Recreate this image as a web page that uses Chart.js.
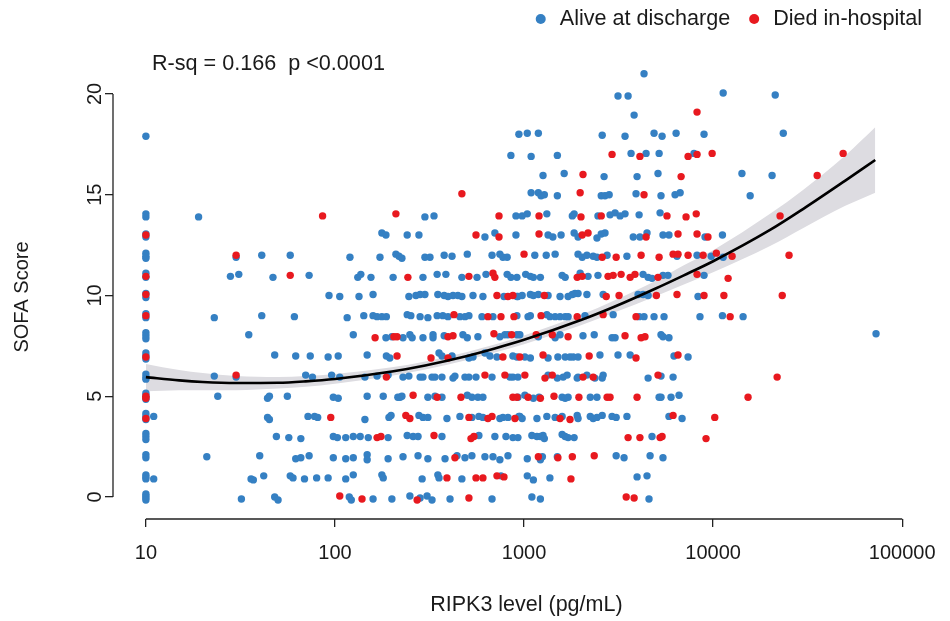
<!DOCTYPE html>
<html>
<head>
<meta charset="utf-8">
<script src="https://cdn.jsdelivr.net/npm/chart.js@4.4.1/dist/chart.umd.min.js"></script>
<style>
  html, body { margin: 0; padding: 0; background: #fff; }
  #wrap { width: 950px; height: 621px; }
</style>
</head>
<body>
<div id="wrap"><canvas id="sofaChart"></canvas></div>
<script>
// RIPK3 (pg/mL) and SOFA score, patients alive at discharge (one line per SOFA level)
const aliveRipk3 = [
  10, 10, 10, 10, 32, 48, 50, 119, 122, 159, 200, 249, 282, 307, 326, 406, 677, 1100, 1220, 4580,
  10, 10, 10, 11, 36, 37, 42, 58, 60, 69, 80, 92, 114, 125, 177, 180, 289, 350, 355, 469, 755, 1040, 1120, 1370, 3960, 4470,
  10, 10, 21, 40, 62, 66, 73, 98, 114, 125, 148, 148, 191, 229, 275, 310, 382, 442, 487, 530, 621, 685, 745, 822, 1040, 1220, 1250, 1500, 3070, 3380, 4640, 5430,
  10, 10, 10, 49, 57, 66, 98, 103, 114, 125, 136, 150, 191, 241, 259, 275, 368, 577, 701, 802, 873, 928, 1100, 1170, 1220, 1260, 1280, 1590, 1650, 1710, 1840, 4750,
  10, 10, 10, 11, 44, 45, 72, 78, 81, 144, 193, 198, 278, 292, 310, 391, 458, 530, 577, 606, 745, 773, 822, 939, 950, 977, 1170, 1320, 1460, 1590, 1910, 1930, 2240, 2320, 2430, 2590, 2920, 3070, 3500, 5840, 6850,
  10, 10, 10, 24, 44, 45, 56, 98, 104, 148, 180, 215, 221, 226, 310, 338, 368, 501, 530, 570, 606, 928, 1010, 1120, 1200, 1590, 1650, 1710, 2240, 2430, 5180, 5300, 5990, 6600,
  10, 10, 10, 23, 30, 70, 76, 96, 106, 144, 167, 191, 229, 246, 282, 292, 326, 338, 368, 421, 431, 487, 511, 557, 677, 842, 873, 928, 1340, 1500, 1610, 1690, 1910, 1930, 2150, 2370, 2590, 2620, 4530, 5300, 6140,
  10, 10, 10, 48, 62, 74, 92, 104, 148, 187, 195, 355, 368, 416, 511, 537, 621, 660, 719, 873, 917, 1010, 1080, 1340, 1510, 1650, 1750, 1820, 1930, 2520, 3140, 3640, 6210, 7370,
  10, 10, 10, 35, 125, 186, 200, 229, 249, 256, 292, 330, 330, 378, 475, 501, 570, 745, 792, 822, 917, 950, 1190, 1460, 1550, 2050, 2350, 2920, 3030, 5300, 5430, 5840, 72700,
  10, 10, 23, 41, 61, 116, 142, 159, 167, 177, 187, 241, 252, 282, 310, 347, 372, 396, 458, 487, 511, 599, 685, 917, 1050, 1080, 1320, 1370, 1460, 1550, 1650, 1710, 2100, 2960, 4060, 4310, 4870, 5500, 8520, 11200, 14400,
  10, 10, 93, 106, 134, 159, 246, 268, 282, 299, 350, 378, 396, 421, 447, 469, 537, 606, 783, 917, 928, 977, 1080, 1120, 1190, 1340, 1550, 1710, 1800, 1860, 1930, 2150, 2620, 4010, 4260, 4530, 8320,
  10, 10, 28, 31, 47, 73, 132, 137, 155, 203, 292, 347, 386, 469, 564, 629, 814, 852, 917, 1020, 1080, 1120, 1220, 1590, 1650, 1980, 2180, 2460, 4260, 4530, 4750, 5430, 5770, 8950,
  10, 10, 10, 30, 41, 58, 120, 173, 210, 218, 226, 299, 318, 378, 416, 501, 677, 745, 773, 814, 1140, 1310, 1460, 1930, 2030, 2150, 2320, 2430, 2750, 3500, 6440, 8220, 9770, 11300,
  10, 10, 177, 186, 241, 278, 621, 701, 906, 1340, 1420, 1570, 1840, 1930, 2430, 2560, 2680, 3780, 4100, 4470, 5430, 5840, 9060, 11200,
  10, 10, 19, 299, 334, 906, 977, 1040, 1320, 1800, 1840, 2460, 2850, 3030, 3220, 3420, 4060, 5240,
  1090, 1190, 1230, 1280, 1500, 2560, 2680, 2820, 3910, 5300, 6290, 6690, 15700,
  1260, 1630, 2650, 3960, 5110, 14200, 20500,
  852, 1090, 1500, 3680, 4420, 5180, 7920,
  10, 939, 1040, 1190, 2590, 3420, 4870, 5370, 6370, 8950, 23500,
  3820, 3140, 3550, 11300, 21300, 4310
];
const aliveSofa = [
  0.15, 0.05, -0.05, -0.15, -0.1, 0, -0.15, 0, -0.15, -0.1, -0.1, 0.05, -0.05, 0.05, -0.15, -0.1, -0.1, 0, -0.1, -0.1,
  1.1, 1.0, 0.9, 0.9, 0.9, 0.85, 1.05, 1.05, 0.95, 0.9, 0.95, 0.95, 0.9, 1.1, 1.1, 0.95, 0.9, 1.1, 0.95, 0.9, 1.05, 1.05, 0.85, 0.95, 1.0, 1.05,
  2.1, 1.95, 2.0, 2.05, 1.9, 1.95, 2.05, 1.95, 1.9, 1.95, 2.1, 1.85, 1.9, 2.0, 2.05, 1.9, 1.9, 2.05, 1.95, 2.05, 2.0, 2.0, 1.85, 2.05, 1.9, 1.85, 2.0, 2.0, 2.05, 1.95, 2.05, 1.95,
  3.15, 3.0, 2.85, 3.0, 2.95, 2.9, 3.0, 2.95, 2.95, 3.0, 3.0, 2.95, 2.95, 3.05, 3.0, 3.0, 3.0, 3.05, 3.0, 3.0, 2.95, 2.95, 3.05, 3.0, 3.0, 3.05, 2.9, 3.1, 3.0, 2.95, 2.95, 3.0,
  4.15, 4.0, 3.85, 4.0, 3.95, 3.85, 4.0, 4.0, 3.95, 3.85, 3.95, 4.05, 4.05, 3.95, 3.95, 3.9, 4.0, 3.95, 4.0, 3.95, 3.9, 3.95, 3.95, 4.0, 4.0, 3.9, 3.9, 4.0, 3.95, 4.0, 4.05, 3.9, 4.0, 3.9, 3.95, 4.05, 4.0, 3.95, 4.0, 4.0, 3.9,
  5.15, 5.0, 4.85, 5.0, 4.9, 5.0, 5.0, 4.95, 4.9, 5.0, 5.0, 4.95, 4.95, 5.0, 4.95, 5.0, 4.95, 5.05, 4.95, 4.95, 4.95, 4.95, 5.05, 4.9, 4.95, 4.95, 4.9, 4.95, 4.95, 4.95, 4.95, 4.95, 4.95, 5.05,
  6.1, 5.95, 5.85, 6.0, 5.95, 6.05, 5.95, 6.05, 5.95, 5.95, 6.0, 6.05, 5.95, 6.0, 5.95, 5.95, 5.95, 5.95, 5.95, 5.9, 6.0, 5.95, 5.95, 5.95, 5.95, 5.95, 5.95, 5.95, 6.05, 5.9, 5.95, 6.05, 5.9, 5.95, 6.05, 5.9, 5.9, 6.05, 5.9, 6.0, 5.95,
  7.15, 7.0, 6.85, 7.05, 7.0, 7.0, 6.95, 7.0, 7.05, 7.0, 6.9, 7.15, 7.0, 7.0, 6.9, 6.95, 7.15, 7.0, 6.95, 7.0, 6.95, 6.95, 6.9, 6.9, 6.95, 6.95, 6.95, 6.95, 6.95, 7.05, 7.05, 7.05, 7.0, 6.95,
  8.15, 8.0, 7.85, 8.05, 8.05, 7.9, 7.95, 7.9, 8.05, 7.9, 7.9, 8.05, 7.9, 8.0, 8.05, 7.9, 7.95, 7.95, 8.05, 8.05, 8.05, 8.05, 7.95, 7.9, 8.05, 8.0, 8.05, 7.9, 7.9, 8.05, 7.95, 7.9, 8.1,
  9.1, 8.9, 8.9, 9.0, 8.95, 8.9, 9.0, 9.0, 8.95, 8.95, 8.95, 9.05, 9.0, 8.95, 8.9, 9.0, 9.0, 8.95, 8.95, 8.95, 9.0, 8.95, 8.95, 9.0, 8.95, 9.0, 9.05, 8.95, 8.95, 8.95, 8.95, 8.95, 9.0, 9.05, 8.95, 8.95, 8.95, 8.95, 8.95, 9.0, 8.95,
  10.1, 9.9, 10.0, 9.95, 9.95, 10.05, 9.95, 10.0, 10.05, 10.05, 10.05, 10.0, 9.95, 10.0, 10.0, 9.95, 10.0, 9.95, 9.95, 9.95, 9.95, 10.0, 10.05, 10.0, 10.05, 10.0, 9.95, 9.95, 10.05, 10.1, 10.1, 10.05, 10.05, 10.05, 10.05, 10.0, 9.95,
  11.1, 10.9, 10.95, 11.05, 10.9, 11.0, 10.9, 11.05, 10.9, 10.9, 10.9, 11.05, 11.05, 10.9, 10.9, 11.05, 11.05, 10.9, 10.9, 11.05, 10.95, 10.9, 10.9, 11.0, 10.9, 11.1, 10.95, 11.0, 11.05, 10.9, 10.85, 11.0, 11.0, 11.0,
  12.1, 11.95, 11.85, 11.9, 12.0, 12.0, 11.9, 11.9, 12.05, 11.95, 11.85, 11.9, 11.9, 12.0, 11.95, 12.05, 12.0, 12.05, 11.9, 11.9, 12.0, 12.0, 12.05, 12.05, 11.9, 12.0, 11.95, 11.9, 12.0, 11.95, 11.95, 12.0, 11.95, 11.9,
  13.05, 12.9, 13.1, 13.0, 13.0, 13.0, 12.9, 13.1, 13.0, 13.0, 12.9, 13.0, 13.1, 12.9, 12.85, 13.05, 13.1, 12.9, 12.9, 13.1, 13.0, 13.0, 12.9, 13.0,
  13.9, 14.05, 13.9, 13.9, 13.95, 13.95, 13.95, 14.05, 14.05, 13.95, 14.05, 13.95, 14.0, 14.1, 13.95, 14.05, 14.0, 14.1,
  15.1, 15.1, 14.95, 15.0, 14.95, 14.95, 14.95, 15.0, 15.05, 14.95, 15.0, 15.1, 14.95,
  15.95, 16.05, 15.9, 15.9, 16.05, 16.05, 15.95,
  16.95, 16.9, 16.95, 17.05, 17.05, 17.05, 17.05,
  17.9, 18.0, 18.05, 18.05, 17.95, 17.9, 18.05, 17.9, 18.05, 18.0, 18.05,
  18.95, 19.9, 19.9, 20.05, 19.95, 21.0
];

// patients who died in hospital
const diedRipk3 = [
  106, 139, 272, 511, 3470, 3820,
  391, 557, 606, 719, 783, 1770,
  431, 1190, 1510, 1800, 2350,
  167, 175, 334, 524, 543, 3550, 4100, 5240, 5370, 9170,
  10, 95, 237, 249, 511, 644, 677, 895, 1550, 1750, 6140, 10200,
  10, 10, 259, 347, 464, 873, 917, 1050, 1220, 1440, 1950, 2750, 2850, 3960, 15300,
  30, 187, 621, 792, 1010, 1290, 1410, 2050, 2320, 5110, 21800,
  10, 213, 322, 396, 773, 950, 1260, 2210, 3910, 6520,
  163, 205, 213, 396, 421, 693, 860, 1160, 1410, 1710, 3420, 4160, 4360,
  10, 426, 644, 755, 884, 1230, 1910, 2620, 3910, 12300,
  10, 719, 822, 873, 1280, 2720, 3180, 5010, 6440, 8950, 11400, 23200,
  10, 58, 243, 511, 685, 701, 1910, 2030, 2780, 2960, 3260, 3640, 3860, 5110, 8220, 12000,
  30, 1000, 2590, 3070, 4160, 5180, 6140, 6520, 7370, 8850, 10400, 12600, 25200,
  10, 557, 737, 1200, 2030, 2180, 4420, 6520, 8220, 9390,
  86, 210, 737, 1200, 2000, 2560, 5700, 7190, 8140, 22600,
  469, 1980, 4310,
  2050, 6770, 35500,
  2920, 4100, 7370, 8220, 9880, 48700,
  8220, 28200
];
const diedSofa = [
  0.05, -0.1, -0.15, -0.05, 0, -0.05,
  0.95, 0.95, 0.95, 1.05, 1.0, 0.9,
  1.95, 2.0, 1.95, 2.0, 2.05,
  2.95, 3.0, 3.05, 2.9, 3.0, 2.95, 2.95, 2.95, 3.0, 2.9,
  3.9, 3.95, 4.05, 3.9, 3.95, 3.9, 4.0, 3.9, 3.9, 3.85, 4.05, 3.95,
  5.0, 4.9, 5.05, 4.95, 4.95, 4.95, 4.95, 4.95, 4.9, 5.0, 4.95, 4.95, 4.95, 4.95, 4.95,
  6.05, 5.95, 6.05, 6.05, 6.05, 5.9, 6.05, 5.95, 5.95, 6.05, 5.95,
  6.95, 7.0, 6.9, 6.9, 6.95, 6.95, 7.05, 7.0, 6.9, 7.05,
  7.9, 7.95, 7.95, 7.95, 8.0, 8.1, 8.05, 8.05, 8.05, 7.95, 8.0, 7.9, 7.95,
  9.0, 9.05, 8.95, 8.95, 8.95, 9.0, 8.95, 9.05, 8.95, 8.95,
  10.05, 10.0, 9.95, 10.0, 10.0, 9.95, 10.0, 10.0, 10.05, 10.0, 10.0, 10.0,
  10.95, 11.0, 10.9, 10.95, 11.1, 10.9, 10.9, 10.95, 10.95, 11.0, 11.05, 10.9, 11.05, 10.9, 11.05, 10.85,
  12.0, 12.05, 11.9, 11.9, 12.0, 11.9, 12.05, 12.05, 12.0, 12.0, 12.1, 11.95, 12.0,
  13.0, 13.0, 12.9, 13.05, 13.0, 13.1, 12.9, 13.05, 13.05, 12.9,
  13.95, 14.05, 13.95, 13.95, 13.9, 13.95, 13.95, 13.9, 14.05, 13.95,
  15.05, 15.1, 15.0,
  16.0, 15.9, 15.95,
  17.0, 16.9, 16.9, 17.0, 17.05, 17.05,
  19.1, 21.9
];

// fitted curve and its confidence band
const fitRipk3 = [10, 15, 20, 30, 50, 70, 100, 200, 300, 500, 700, 1000, 2000, 3000, 5000, 7000, 10000, 20000, 30000, 50000, 72000];
const fitSofa  = [5.95, 5.79, 5.71, 5.66, 5.67, 5.74, 5.86, 6.23, 6.53, 7.0, 7.37, 7.8, 8.78, 9.44, 10.36, 11.0, 11.7, 13.25, 14.3, 15.7, 16.72];
const fitLower = [5.25, 5.3, 5.3, 5.3, 5.38, 5.47, 5.62, 6.02, 6.33, 6.8, 7.17, 7.58, 8.52, 9.15, 9.98, 10.55, 11.15, 12.45, 13.35, 14.45, 15.1];
const fitUpper = [6.6, 6.3, 6.15, 6.0, 5.95, 6.0, 6.1, 6.44, 6.73, 7.2, 7.57, 8.02, 9.04, 9.75, 10.74, 11.5, 12.25, 14.05, 15.25, 16.95, 18.35];

const xTicks = [10, 100, 1000, 10000, 100000];
const yTicks = [0, 5, 10, 15, 20];
const annotation = 'R-sq = 0.166  p <0.0001';

const FONT = '"Liberation Sans", Arial, sans-serif';
Chart.defaults.font.family = FONT;
Chart.defaults.color = '#1a1a1a';

function pairs(xs, ys) {
  const n = Math.min(xs.length, ys.length);
  const out = [];
  for (let i = 0; i < n; i++) out.push({x: xs[i], y: ys[i]});
  return out;
}

// R-style axes (lines only over the tick range), rotated y labels, legend and R-sq text
const rStyle = {
  id: 'rStyle',
  afterDraw(chart) {
    const {ctx, chartArea, scales} = chart;
    const x = scales.x, y = scales.y;
    ctx.save();
    ctx.strokeStyle = '#222';
    ctx.lineWidth = 1.3;
    ctx.beginPath();
    ctx.moveTo(x.getPixelForValue(xTicks[0]), chartArea.bottom);
    ctx.lineTo(x.getPixelForValue(xTicks[xTicks.length - 1]), chartArea.bottom);
    ctx.moveTo(chartArea.left, y.getPixelForValue(yTicks[0]));
    ctx.lineTo(chartArea.left, y.getPixelForValue(yTicks[yTicks.length - 1]));
    ctx.stroke();

    ctx.fillStyle = '#1a1a1a';
    ctx.font = '20px ' + FONT;
    ctx.textAlign = 'center';
    ctx.textBaseline = 'bottom';
    yTicks.forEach(v => {
      ctx.save();
      ctx.translate(chartArea.left - 8, y.getPixelForValue(v));
      ctx.rotate(-Math.PI / 2);
      ctx.fillText(String(v), 0, 0);
      ctx.restore();
    });

    ctx.font = '21.6px ' + FONT;
    ctx.textAlign = 'left';
    ctx.textBaseline = 'middle';
    ctx.fillText(annotation, 152, 64);

    // legend, right aligned
    const items = chart.data.datasets.slice(0, 2);
    const widths = items.map(d => ctx.measureText(d.label).width);
    let total = 0;
    widths.forEach((w, i) => { total += 19 + w + (i ? 24 : 0); });
    let cx = 922 - total;
    items.forEach((d, i) => {
      ctx.fillStyle = d.backgroundColor;
      ctx.beginPath();
      ctx.arc(cx, 19, 5, 0, Math.PI * 2);
      ctx.fill();
      ctx.fillStyle = '#1a1a1a';
      ctx.fillText(d.label, cx + 19, 19);
      cx += 19 + widths[i] + 24;
    });
    ctx.restore();
  }
};

const ctx = document.getElementById('sofaChart');

new Chart(ctx, {
  type: 'scatter',
  data: {
    datasets: [
      {
        label: 'Alive at discharge',
        data: pairs(aliveRipk3, aliveSofa),
        backgroundColor: '#3580c3',
        pointRadius: 3.7,
        borderWidth: 0,
        clip: false,
        order: 2
      },
      {
        label: 'Died in-hospital',
        data: pairs(diedRipk3, diedSofa),
        backgroundColor: '#e8191f',
        pointRadius: 3.7,
        borderWidth: 0,
        clip: false,
        order: 1
      },
      {
        type: 'line',
        label: 'fit',
        data: pairs(fitRipk3, fitSofa),
        borderColor: '#000',
        borderWidth: 2.6,
        pointRadius: 0,
        cubicInterpolationMode: 'monotone',
        fill: false,
        order: 0
      },
      {
        type: 'line',
        label: 'upper',
        data: pairs(fitRipk3, fitUpper),
        borderWidth: 0,
        borderColor: 'rgba(0,0,0,0)',
        backgroundColor: '#dddce1',
        pointRadius: 0,
        cubicInterpolationMode: 'monotone',
        fill: '+1',
        order: 4
      },
      {
        type: 'line',
        label: 'lower',
        data: pairs(fitRipk3, fitLower),
        borderWidth: 0,
        borderColor: 'rgba(0,0,0,0)',
        pointRadius: 0,
        cubicInterpolationMode: 'monotone',
        fill: false,
        order: 5
      }
    ]
  },
  options: {
    responsive: true,
    maintainAspectRatio: false,
    animation: false,
    events: [],
    layout: { padding: { top: 75, right: 9, left: 0, bottom: 0 } },
    plugins: {
      legend: { display: false },
      tooltip: { enabled: false }
    },
    scales: {
      x: {
        type: 'logarithmic',
        min: 6.7,
        max: 158000,
        afterBuildTicks: s => { s.ticks = xTicks.map(v => ({value: v})); },
        afterFit: s => { s.height = 102; },
        border: { display: false },
        grid: { drawOnChartArea: false, drawTicks: true, tickLength: 8, color: '#222', lineWidth: 1.3 },
        ticks: {
          autoSkip: false, maxRotation: 0, padding: 14,
          font: { size: 20 }, color: '#1a1a1a',
          callback: v => String(v)
        },
        title: {
          display: true, text: 'RIPK3 level (pg/mL)',
          font: { size: 21.5 }, color: '#1a1a1a',
          padding: { top: 0, bottom: 3 }
        }
      },
      y: {
        min: -1.09,
        max: 20.94,
        afterBuildTicks: s => { s.ticks = yTicks.map(v => ({value: v})); },
        afterFit: s => { s.width = 113; },
        border: { display: false },
        grid: { drawOnChartArea: false, drawTicks: true, tickLength: 8, color: '#222', lineWidth: 1.3 },
        ticks: { display: false },
        title: {
          display: true, text: 'SOFA Score',
          font: { size: 20 }, color: '#1a1a1a',
          padding: { top: 10, bottom: 0 }
        }
      }
    }
  },
  plugins: [rStyle]
});
</script>
</body>
</html>
